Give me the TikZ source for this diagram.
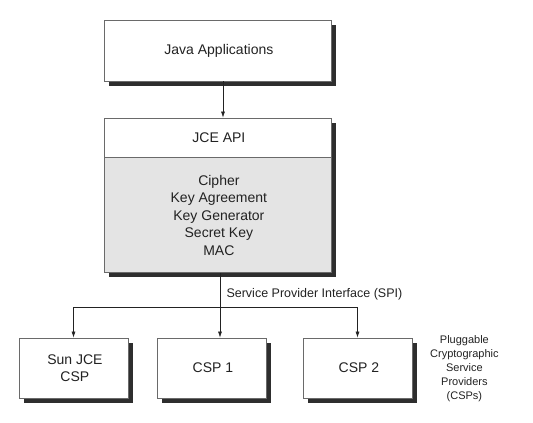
\documentclass[tikz,border=0pt]{standalone}
\usepackage{fontspec}
\setmainfont{Liberation Sans}
\usetikzlibrary{positioning,arrows.meta}
\definecolor{shadowgray}{HTML}{2E2E2E}
\definecolor{framegray}{HTML}{6A6A6A}
\definecolor{mechgray}{HTML}{E4E4E4}
\definecolor{inkgray}{HTML}{222222}
\begin{document}
\begin{tikzpicture}[x=1pt,y=-1pt,
    panel/.style={draw=framegray, line width=0.8pt, fill=white, text=inkgray, inner sep=0pt},
    backdrop/.style={fill=shadowgray, draw=none, inner sep=0pt},
    cspbox/.style={panel, minimum width=109pt, minimum height=60pt, align=center},
    link/.style={draw=inkgray, line width=0.6pt, -{Latex[length=6pt,width=4pt]}}
]
    \newcommand{\boxfont}{
        \fontsize{14}{17.5}\selectfont
    }
    \newcommand{\notefont}{
        \fontsize{11}{14}\selectfont
    }
    \useasboundingbox (0,0) rectangle (533,423);

    \node[backdrop, minimum width=227pt, minimum height=61pt] (javashadow) at (222.5,55.5) {};
    \node[backdrop, minimum width=227pt, minimum height=154pt] (jceshadow) at (222.5,200) {};
    \node[backdrop, minimum width=109pt, minimum height=60pt] (sunshadow) at (78.5,373) {};
    \node[backdrop, minimum width=109pt, minimum height=60pt] (csp1shadow) at (216.5,373) {};
    \node[backdrop, minimum width=109pt, minimum height=60pt] (csp2shadow) at (362.5,373) {};

    \node[panel, minimum width=227pt, minimum height=61pt, font=\boxfont] (java) at (217.5,50.5) {Java Applications};

    \node[panel, minimum width=227pt, minimum height=39pt, font=\boxfont] (api) at (217.5,137.5) {JCE API};
    \node[panel, fill=mechgray, minimum width=227pt, minimum height=115pt, align=center, font=\boxfont, below=0pt of api] (mech) {Cipher\\Key Agreement\\Key Generator\\Secret Key\\MAC};

    \node[cspbox, font=\boxfont] (sun) at (73.5,368) {Sun JCE\\CSP};
    \node[cspbox, font=\boxfont] (csp1) at (211.5,368) {CSP 1};
    \node[cspbox, font=\boxfont] (csp2) at (357.5,368) {CSP 2};

    \node[text=inkgray, align=center, font=\notefont] (pcsp) at (463,369) {Pluggable\\Cryptographic\\Service\\Providers\\(CSPs)};

    \coordinate (spi) at (220,307.7);
    \node[text=inkgray, anchor=west, font=\fontsize{12.5}{15}\selectfont] (spilabel) at (223,294) {Service Provider Interface (SPI)};

    \draw[link] ([xshift=5.5pt]java.south) -- ([xshift=5.5pt]api.north);
    \draw[link] (mech.south -| spi) -- (spi |- csp1.north);
    \draw[link] (spi) -| (sun.north);
    \draw[link] (spi) -| (csp2.north);

\end{tikzpicture}
\end{document}
